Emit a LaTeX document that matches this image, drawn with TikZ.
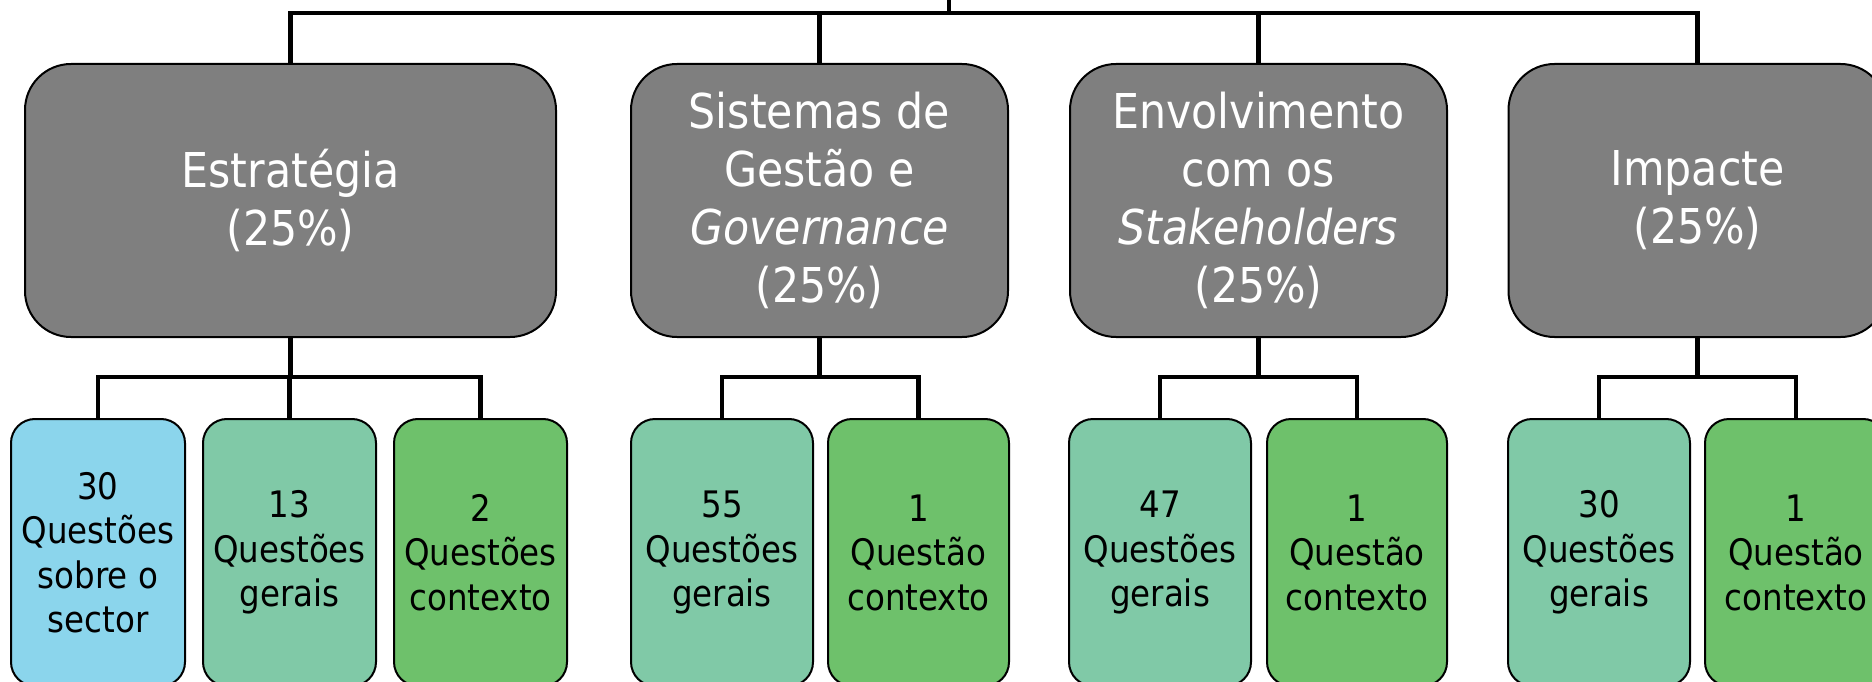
\documentclass[tikz,border=0pt]{standalone}
\usepackage{fontspec}
\setmainfont{DejaVu Sans}[FakeStretch=0.89]
\definecolor{boxgray}{HTML}{7F7F7F}
\definecolor{lblue}{HTML}{8BD5EC}
\definecolor{lteal}{HTML}{80C9A7}
\definecolor{lgreen}{HTML}{6EC16B}
\begin{document}
\begin{tikzpicture}[x=1pt,y=-1pt,
  mainbox/.style={draw=black, line width=2pt, fill=boxgray, rounded corners=46pt,
    minimum width=377pt, minimum height=273pt, inner sep=0pt, align=center,
    text=white, font=\fontsize{48}{58}\selectfont},
  childbox/.style={draw=black, line width=2pt, rounded corners=24pt,
    minimum width=182pt, minimum height=267pt, inner sep=0pt, align=center,
    text=black, font=\fontsize{36.5}{44.5}\selectfont},
  conn/.style={draw=black, line width=4.8pt}]
\useasboundingbox (0,0) rectangle (1872,682);
\clip (0,0) rectangle (1872,682);
% main boxes
\node[mainbox, minimum width=531pt] (b1) at (290.5,200.5) {Estratégia\\(25\%)};
\node[mainbox] (b2) at (819.5,200.5) {Sistemas de\\Gestão e\\\textit{Governance}\\(25\%)};
\node[mainbox] (b3) at (1258.5,200.5) {Envolvimento\\com os\\\textit{Stakeholders}\\(25\%)};
\node[mainbox, minimum width=378pt] (b4) at (1697.5,200.5) {Impacte\\(25\%)};
% children
\node[childbox, fill=lblue, minimum width=174pt] (a1) at (98,552.5) {30\\Questões\\sobre o\\sector};
\node[childbox, fill=lteal, minimum width=173pt] (a2) at (289.5,552.5) {13\\Questões\\gerais};
\node[childbox, fill=lgreen, minimum width=173pt] (a3) at (480.5,552.5) {2\\Questões\\contexto};
\node[childbox, fill=lteal] (c1) at (722,552.5) {55\\Questões\\gerais};
\node[childbox, fill=lgreen, minimum width=181pt] (c2) at (918.5,552.5) {1\\Questão\\contexto};
\node[childbox, fill=lteal] (d1) at (1160,552.5) {47\\Questões\\gerais};
\node[childbox, fill=lgreen, minimum width=180pt] (d2) at (1357,552.5) {1\\Questão\\contexto};
\node[childbox, fill=lteal] (e1) at (1599,552.5) {30\\Questões\\gerais};
\node[childbox, fill=lgreen] (e2) at (1796,552.5) {1\\Questão\\contexto};
% top connectors
\coordinate (root) at (949,-3);
\coordinate (hub) at (949,13);
\draw[conn] (root) -- (hub);
\draw[conn] (b1.north) |- (hub);
\draw[conn] (b4.north) |- (hub);
\draw[conn] (b2.north) -- (b2.north |- hub);
\draw[conn] (b3.north) -- (b3.north |- hub);
% child connectors
\coordinate (j1) at (b1.south |- 0,377);
\coordinate (j2) at (b2.south |- 0,377);
\coordinate (j3) at (b3.south |- 0,377);
\coordinate (j4) at (b4.south |- 0,377);
\draw[conn] (b1.south) -- (j1);
\draw[conn] (a1.north) |- (j1) -| (a3.north);
\draw[conn] (a2.north) -- (a2.north |- j1);
\draw[conn] (b2.south) -- (j2);
\draw[conn] (c1.north) |- (j2) -| (c2.north);
\draw[conn] (b3.south) -- (j3);
\draw[conn] (d1.north) |- (j3) -| (d2.north);
\draw[conn] (b4.south) -- (j4);
\draw[conn] (e1.north) |- (j4) -| (e2.north);
\end{tikzpicture}
\end{document}
